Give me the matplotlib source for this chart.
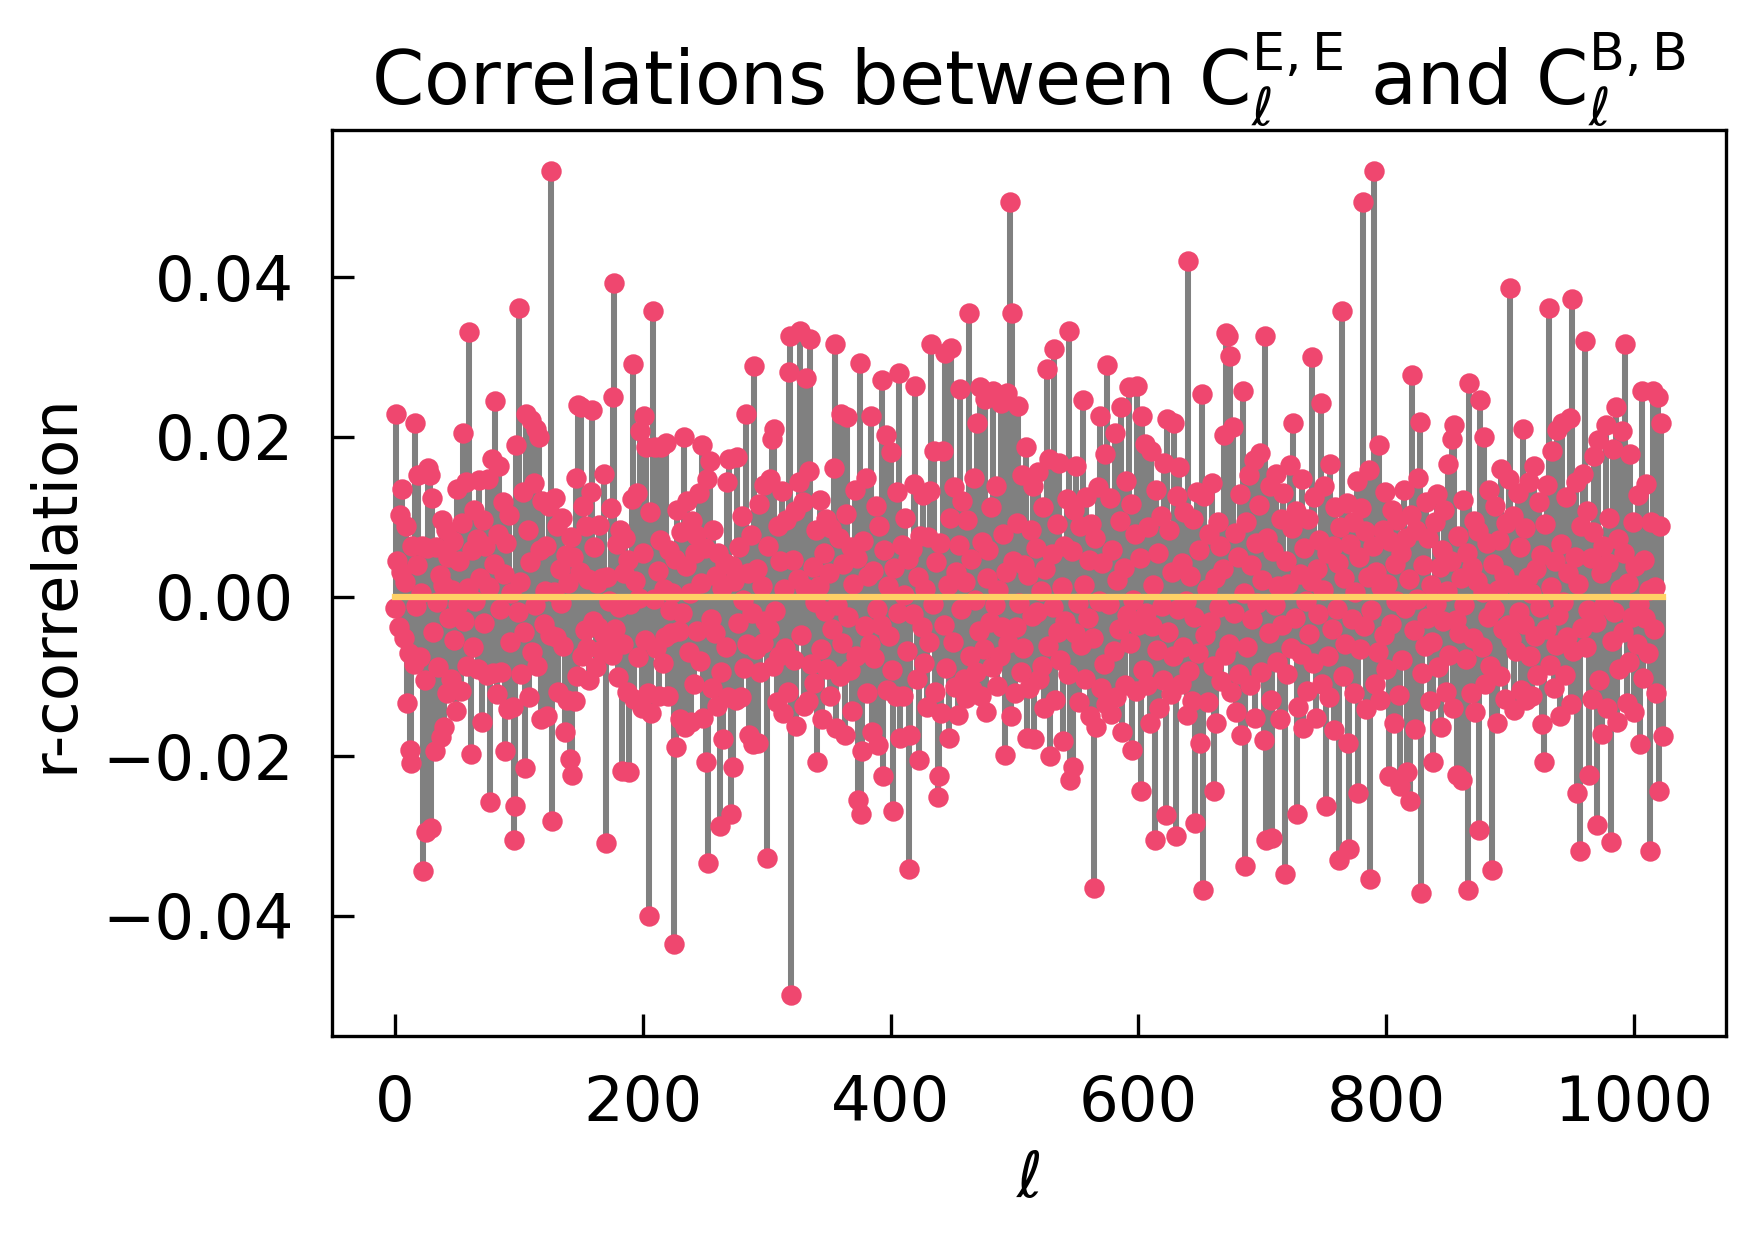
import numpy as np
import matplotlib
matplotlib.use("Agg")
import matplotlib.pyplot as plt

# r-correlation between C_l^EE and C_l^BB (units of 1e-4)
r_corr_e4 = [
    -14, 229, 45, -38, 102, 31, 135, -52, 18, 88, -133, -71, -192, -209, 64, -85,
    218, -12, 39, 152, -76, 5, 63, -344, -104, -295, 61, 161, 152, -290, 123, -44,
    -193, 62, -7, -88, 27, -176, 96, 14, -163, 83, -121, 49, -27, -103, 8, 70,
    -54, -143, 135, -9, 44, -118, 92, 205, -31, 143, -87, 11, 331, -197, 58, -63,
    109, -5, 72, -91, 146, 23, -157, 96, -33, 64, -98, 147, 12, -258, 173, -96,
    41, 245, -122, 79, 164, -16, -95, 118, 28, -193, 67, -141, 102, -57, 5, -138,
    -305, -262, 190, -19, 362, 18, -97, 131, -44, -215, 229, 84, -126, 43, 221, -69,
    142, -11, 210, -87, 200, 58, -153, 120, -34, 7, 63, -150, 113, -48, 533, -281,
    6, 123, -51, 89, -119, 34, -8, 98, -62, -170, 52, -129, 17, -203, 75, -224,
    49, -131, 148, -100, 240, 31, 237, -74, 113, -42, 89, -64, 22, -105, 131, 234,
    -30, 62, -88, 17, -38, 90, -67, 23, -46, 154, -309, 24, -58, -6, 111, -73,
    250, 393, -40, 66, -101, -13, 84, -218, -59, 29, 73, -119, 46, -220, -9, 122,
    292, -128, 19, 130, -76, -2, 208, -139, 54, 226, -55, 187, -121, -400, 106, -146,
    358, -3, 188, -64, 32, -125, 71, 187, -83, 10, -51, 192, -124, 58, -17, -46,
    5, -435, 47, -188, 109, -43, -154, 81, -20, 200, -163, 38, 120, -69, 4, -157,
    95, -109, 54, 77, -43, 130, -81, 17, 190, -152, 61, -207, 147, -334, 170, -28,
    -114, 84, -45, 26, -137, 54, -287, -94, 11, -178, 42, -63, 143, -126, 172, -272,
    38, -214, 20, -130, 175, -33, 62, -126, 101, -4, -90, 229, -60, 29, -173, 77,
    -21, -185, 289, -66, 35, -184, 116, -95, 13, -58, 140, -30, -328, 63, -41, 147,
    197, -87, 210, -18, -132, 89, -75, 45, 132, -146, 9, -64, 96, -119, 282, 327,
    -499, 46, -79, 107, -162, 22, 143, 333, -48, 119, -137, 11, 274, -131, 157, 323,
    -84, 37, -108, -7, 84, -207, 13, 121, -66, -154, 55, -18, 97, -91, 29, -124,
    86, -40, 161, 316, -165, -10, 74, -100, 229, -58, 41, -173, 103, 225, -26, -92,
    62, -143, 16, 134, -74, 48, -255, 293, -272, -194, 70, -37, 149, -121, 26, -59,
    226, -170, 32, -77, 114, -15, -186, 88, -36, 271, -225, 59, 202, -117, 13, -49,
    181, -92, -269, 36, -124, 131, -20, 280, -177, 65, -124, 2, 98, -68, 47, -341,
    -173, 60, -22, 141, 264, -103, 24, -205, 76, -38, 127, -83, 9, -138, 75, -57,
    132, 317, -9, 182, -119, 43, -251, -225, 67, -146, 183, -35, 305, -90, 14, -177,
    98, 311, -57, 137, -113, 31, -148, 65, 260, -16, 120, -103, 18, -127, 96, 355,
    -75, 47, -116, 149, -4, -95, 217, -43, 263, -125, 69, -66, 248, -145, 23, 58,
    -32, 112, -88, 257, -11, 138, -112, 8, -74, 242, -38, 79, -199, 31, 255, -58,
    495, -150, 355, 45, -121, -38, 92, 239, -8, -95, 152, -64, 40, 188, -177, 27,
    -115, 84, -24, 139, -178, 61, -19, 156, -103, 7, -87, 112, -140, 35, 285, -62,
    173, -200, 53, -13, 310, -130, 91, -44, 168, -79, 12, -181, 63, -30, 122, -97,
    333, -230, 57, -213, 108, -46, 164, -8, -132, 88, -61, 246, 14, -103, 125, -27,
    46, -150, 91, -52, -365, 73, -163, 137, -6, 226, -114, 42, -85, 179, -134, 290,
    -9, 123, -147, 58, -68, 205, -126, 21, -41, 95, 237, -170, 36, -111, 145, -23,
    262, -58, 116, -192, -4, 78, -118, 264, -35, 48, -243, 226, -92, 191, -20, -111,
    87, -158, 183, -37, 15, -305, 134, -67, 54, -140, 101, -12, -104, 168, -274, 223,
    -44, 83, -122, 31, -75, 218, -300, 126, -16, 162, -110, 42, -63, 106, -5, -148,
    421, -93, 26, -131, 97, -26, -284, 131, -71, 59, -183, 254, -368, 126, -48, 10,
    -132, 78, -32, 142, -87, -243, 23, -158, 93, -13, 63, -106, 35, 202, -73, 330,
    327, -59, 302, -119, 213, -21, 80, -144, 50, -97, 128, -174, 257, 5, -337, 94,
    -63, 152, -111, 39, -28, 171, -152, 67, -8, 115, 180, -94, 21, -180, 327, -305,
    74, -46, 138, -129, -302, 57, -10, 153, -82, 13, -154, 97, -36, 130, -347, 44,
    -97, 16, 165, -65, 86, 218, -27, 107, -272, -138, 28, -72, 147, -165, 61, -5,
    -118, 97, -47, 19, 300, -83, 125, -152, 34, -22, 71, 243, -110, 8, 139, -262,
    55, -74, -126, 166, -41, 63, -167, 112, -15, 42, -330, 87, 358, -99, 23, -60,
    117, -183, -316, 66, -28, 93, -121, 6, 145, -246, 49, -66, 111, 495, -37, 82,
    -141, 24, 158, -354, -17, 64, 533, -109, 31, -70, 190, -130, 12, 84, -48, 131,
    -91, 16, -225, 70, -34, 108, -159, 41, -5, 96, -123, -237, 54, -80, 133, -14,
    73, -220, 22, -256, 102, 278, -42, -166, 83, -3, 148, 219, -371, -96, 39, -62,
    118, -27, 73, -131, 15, -57, -207, 94, -9, 128, -88, 37, -164, 59, -31, 108,
    -119, 7, 166, -73, 44, 198, -140, 215, -29, -223, 76, -45, 23, -230, 121, -11,
    -78, 55, -368, 267, -121, 37, -52, 95, -144, 19, 82, -293, 246, -63, 6, 200,
    -110, 67, -25, 134, -87, -342, 41, -16, 113, -159, 8, 71, -99, 160, -41, 27,
    -128, 92, -36, 147, 387, -53, 101, -142, 15, -68, 130, -19, 62, -117, 210, -34,
    86, -130, 24, 143, -75, 4, -124, 164, -49, 35, -98, 119, -13, 52, -160, -207,
    91, -41, 140, 362, -86, 12, 183, -114, 45, -61, 209, -23, -149, 66, 218, -7,
    -98, 125, -51, 29, 224, -134, 373, -68, 50, 143, -246, 16, -319, 88, -39, 154,
    320, -63, 107, -17, -223, 48, -128, 81, 176, -32, -286, 196, -105, 29, -172, 64,
    -11, 215, -139, 42, 98, -307, -56, 185, -19, 237, -157, 72, -91, 10, 208, -44,
    55, 317, -133, 17, -82, 179, -26, 94, -145, 38, -60, 127, -9, -185, 258, -102,
    46, -27, 141, -71, 8, -319, 93, 257, -40, 12, -121, 250, -243, 89, 218, -175,
]
ell = np.arange(len(r_corr_e4))
r_corr = np.array(r_corr_e4) / 1e4

fig = plt.figure(figsize=(1756 / 300, 1236 / 300), dpi=300)
ax = fig.add_axes([0.1888, 0.1618, 0.9829 - 0.1888, 0.8948 - 0.1618])

markerline, stemlines, baseline = ax.stem(ell, r_corr)
stemlines.set_color('grey')
stemlines.set_linewidth(1.45)
markerline.set_color('#EF476F')
markerline.set_markersize(3.9)
baseline.set_color('#FFD166')
baseline.set_linewidth(1.5)

ax.set_title(r'Correlations between $\mathrm{C}_\ell^{\mathrm{E,E}}$ and $\mathrm{C}_\ell^{\mathrm{B,B}}$',
             fontsize=18)
ax.set_xlabel(r'$\ell$', fontsize=15)
ax.set_ylabel('r-correlation', fontsize=15)
ax.set_xticks([0, 200, 400, 600, 800, 1000])
ax.set_yticks([-0.04, -0.02, 0.0, 0.02, 0.04])
ax.tick_params(direction='in', length=5.3, width=0.8, pad=9, labelsize=15)
for sp in ax.spines.values():
    sp.set_linewidth(0.8)

fig.savefig('out.png', dpi=300)
